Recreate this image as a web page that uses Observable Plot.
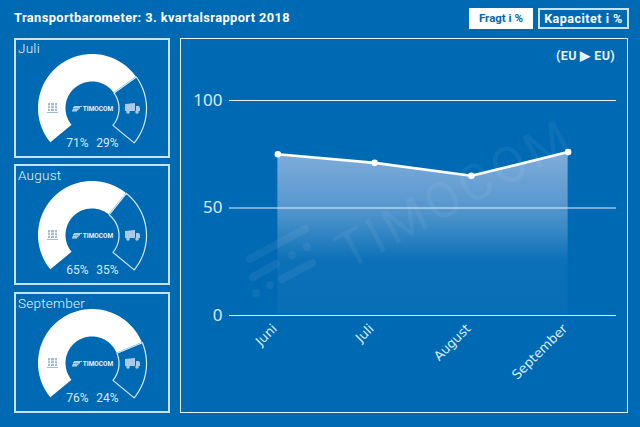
<!DOCTYPE html>
<html><head><meta charset="utf-8">
<script src="https://cdn.jsdelivr.net/npm/d3@7"></script>
<script src="https://cdn.jsdelivr.net/npm/@observablehq/plot@0.6"></script>
<style>
html,body{margin:0;padding:0;background:#0069b4;width:640px;height:427px;overflow:hidden}
#page{position:relative;width:640px;height:427px;font-family:Roboto,sans-serif;color:#fff}
.abs{position:absolute;box-sizing:border-box}
.panel{border:2px solid #c6e2f5}
.title{left:14px;top:10px;font:700 12.8px Roboto,sans-serif;letter-spacing:.42px;white-space:nowrap}
.btn{font:700 11.5px/20px Roboto,sans-serif;text-align:center}
.month{left:18px;font:300 13.5px Roboto,sans-serif;color:#e6f2fa;letter-spacing:.25px}
.route{left:556px;top:48px;font:700 12.5px Roboto,sans-serif;color:#e6f2fa;letter-spacing:.4px;white-space:nowrap}
.plot{position:absolute;left:0;top:0}
svg{background:transparent!important}
.wm{left:340px;top:255px;width:0;height:0;font:400 50px/0 Roboto,sans-serif;color:rgba(255,255,255,.055);letter-spacing:4px;transform:rotate(-28deg);transform-origin:0 0;white-space:nowrap}
</style></head><body><div id="page"></div>
<script>
const title = "Transportbarometer: 3. kvartalsrapport 2018";
const buttons = ["Fragt i %", "Kapacitet i %"];
const route = "(EU ▶ EU)";
const months = ["Juni", "Juli", "August", "September"];
const freight = [75, 71, 65, 76];
const gaugeMonths = ["Juli", "August", "September"];
const gaugeFreight = [71, 65, 76];
const gaugeCapacity = [29, 35, 24];
const yTicks = [0, 50, 100];
const brand = "TIMOCOM";

const page = document.getElementById("page");
function box(cls, left, top, width, height, text, style) {
  const d = document.createElement("div");
  d.className = "abs " + cls;
  d.style.cssText = `left:${left}px;top:${top}px;width:${width}px;height:${height}px;` + (style || "");
  if (text) d.textContent = text;
  page.appendChild(d);
  return d;
}
function label(cls, text, style) {
  const d = document.createElement("div");
  d.className = "abs " + cls;
  d.textContent = text;
  if (style) d.style.cssText = style;
  page.appendChild(d);
  return d;
}
label("title", title);
box("btn", 469, 8, 64, 21, buttons[0], "background:#fff;color:#0069b4;");
box("btn", 538, 8, 91, 21, buttons[1], "border:2px solid #c6e2f5;color:#fff;font-size:12.5px;letter-spacing:.5px;line-height:17px;");
box("panel", 14, 38, 156, 120);
box("panel", 14, 164, 156, 121);
box("panel", 14, 292, 156, 121);
box("panel", 180, 38, 448, 375, "", "border-width:1.5px;border-color:#e6f2fa");
label("route", route);

// Watermark behind the chart
label("wm", brand);
const wmMark = document.createElementNS("http://www.w3.org/2000/svg", "svg");
wmMark.setAttribute("width", 640); wmMark.setAttribute("height", 427);
wmMark.style.cssText = "position:absolute;left:0;top:0";
wmMark.innerHTML = `<g stroke="#fff" stroke-opacity=".06" stroke-width="8" stroke-linecap="round" fill="none">
<path d="M250 259L305 229M253 277L276 264M282 279L312 263M292 255v.01M307 247v.01M256 293v.01M270 285v.01"/></g>`;
page.appendChild(wmMark);

// Main chart
const mainData = months.map((m, i) => ({month: m, value: freight[i]}));
const main = Plot.plot({
  width: 640, height: 427,
  marginLeft: 229, marginRight: 24, marginTop: 100, marginBottom: 112,
  style: {background: "transparent", color: "#d6ebf8"},
  x: {type: "band", domain: months, padding: 0, round: false, axis: null},
  y: {domain: [0, 100], axis: null},
  marks: [
    () => {
      const s = d3.create("svg:defs");
      const g = s.append("linearGradient").attr("id", "fade").attr("x1", 0).attr("x2", 0).attr("y1", 0).attr("y2", 1);
      [[0, .52, "#f6ecff"], [.34, .35, "#f6ecff"], [.66, .05, "#fff"], [1, .03, "#fff"]].forEach(([o, a, c]) =>
        g.append("stop").attr("offset", o).attr("stop-color", c).attr("stop-opacity", a));
      return s.node();
    },
    Plot.axisX({label: null, tickSize: 0, tickRotate: -45, tickPadding: 10, dx: -3, dy: 1, fontSize: 13, fontFamily: "DejaVu Sans"}),
    Plot.axisY({ticks: yTicks, label: null, tickSize: 0, tickPadding: 7, fontSize: 17}),
    Plot.areaY(mainData, {x: "month", y: "value", fill: "url(#fade)"}),
    Plot.ruleY(yTicks, {stroke: "#e6f2fa", strokeWidth: 1.2}),
    Plot.line(mainData, {x: "month", y: "value", stroke: "#fff", strokeWidth: 2.6}),
    Plot.dot(mainData, {x: "month", y: "value", r: 3.3, fill: "#fff"})
  ]
});
main.classList.add("plot");
page.appendChild(main);

// Small icons used inside the gauges
const svgUri = s => "data:image/svg+xml," + encodeURIComponent(s);
const iconPallet = svgUri(`<svg xmlns="http://www.w3.org/2000/svg" viewBox="0 0 11 11"><path fill="#9fb9d6" d="M1 0h2v8H1zM4 0h3v8H4zM8 0h2v8H8zM0 9h11v1H0z"/><path fill="#fff" d="M1 2.5h9v.7H1zM1 5h9v.7H1z"/></svg>`);
const iconTruck = svgUri(`<svg xmlns="http://www.w3.org/2000/svg" viewBox="0 0 15 11"><path fill="#a9cbe6" d="M0 1l10-1v8H0zM11 3h3l1 2v3h-4z"/><circle cx="3" cy="9" r="1.8" fill="#a9cbe6"/><circle cx="12" cy="9" r="1.8" fill="#a9cbe6"/></svg>`);
const iconLogo = svgUri(`<svg xmlns="http://www.w3.org/2000/svg" viewBox="0 0 10 6"><path stroke="#e6f2fa" stroke-width="1.1" d="M2 .6h8M1 2.4h7M.5 4.2h6M0 5.6h5"/></svg>`);

// Gauges
const R = 54, r0 = 26.5, sweep = 259, cy = [108, 235, 363];
function arc(from, to) {
  const n = 60;
  return d3.range(n + 1).map(i => {
    const a = (from + (to - from) * i / n) * Math.PI / 180;
    return {x1: R * Math.sin(a), y1: R * Math.cos(a), x2: r0 * Math.sin(a), y2: r0 * Math.cos(a)};
  });
}
gaugeMonths.forEach((m, i) => {
  const start = -sweep / 2, mid = start + sweep * gaugeFreight[i] / 100, end = sweep / 2;
  const fr = arc(start, mid), cap = arc(mid, end);
  const outline = [...cap.map(d => ({x: d.x1, y: d.y1})), ...cap.slice().reverse().map(d => ({x: d.x2, y: d.y2})), {x: cap[0].x1, y: cap[0].y1}];
  const g = Plot.plot({
    width: 156, height: 120, margin: 0, axis: null,
    x: {domain: [-78, 78]}, y: {domain: [-49, 71]},
    style: {background: "transparent"},
    marks: [
      Plot.line(outline, {x: "x", y: "y", stroke: "#d6ebf8", strokeWidth: 1.2}),
      Plot.area(fr, {x1: "x1", y1: "y1", x2: "x2", y2: "y2", fill: "#fff"}),
      Plot.text([gaugeFreight[i] + "%"], {x: [-15], y: [-35], fill: "#d6ebf8", fontSize: 12, fontFamily: "Roboto"}),
      Plot.text([gaugeCapacity[i] + "%"], {x: [15], y: [-35], fill: "#d6ebf8", fontSize: 12, fontFamily: "Roboto"}),
      Plot.text([brand], {x: [5.5], y: [0], fill: "#e6f2fa", fontSize: 6.5, fontWeight: 700, fontFamily: "Roboto"}),
      Plot.image([0], {x: [-15.5], y: [0], src: [iconLogo], width: 10, height: 6}),
      Plot.image([0], {x: [-40], y: [0], src: [iconPallet], width: 11, height: 11}),
      Plot.image([0], {x: [40], y: [0], src: [iconTruck], width: 15, height: 11})
    ]
  });
  g.classList.add("plot");
  g.style.left = "14px"; g.style.top = (cy[i] - 71) + "px";
  page.appendChild(g);
  label("month", m, `top:${cy[i] - 68}px`);
});
</script></body></html>
